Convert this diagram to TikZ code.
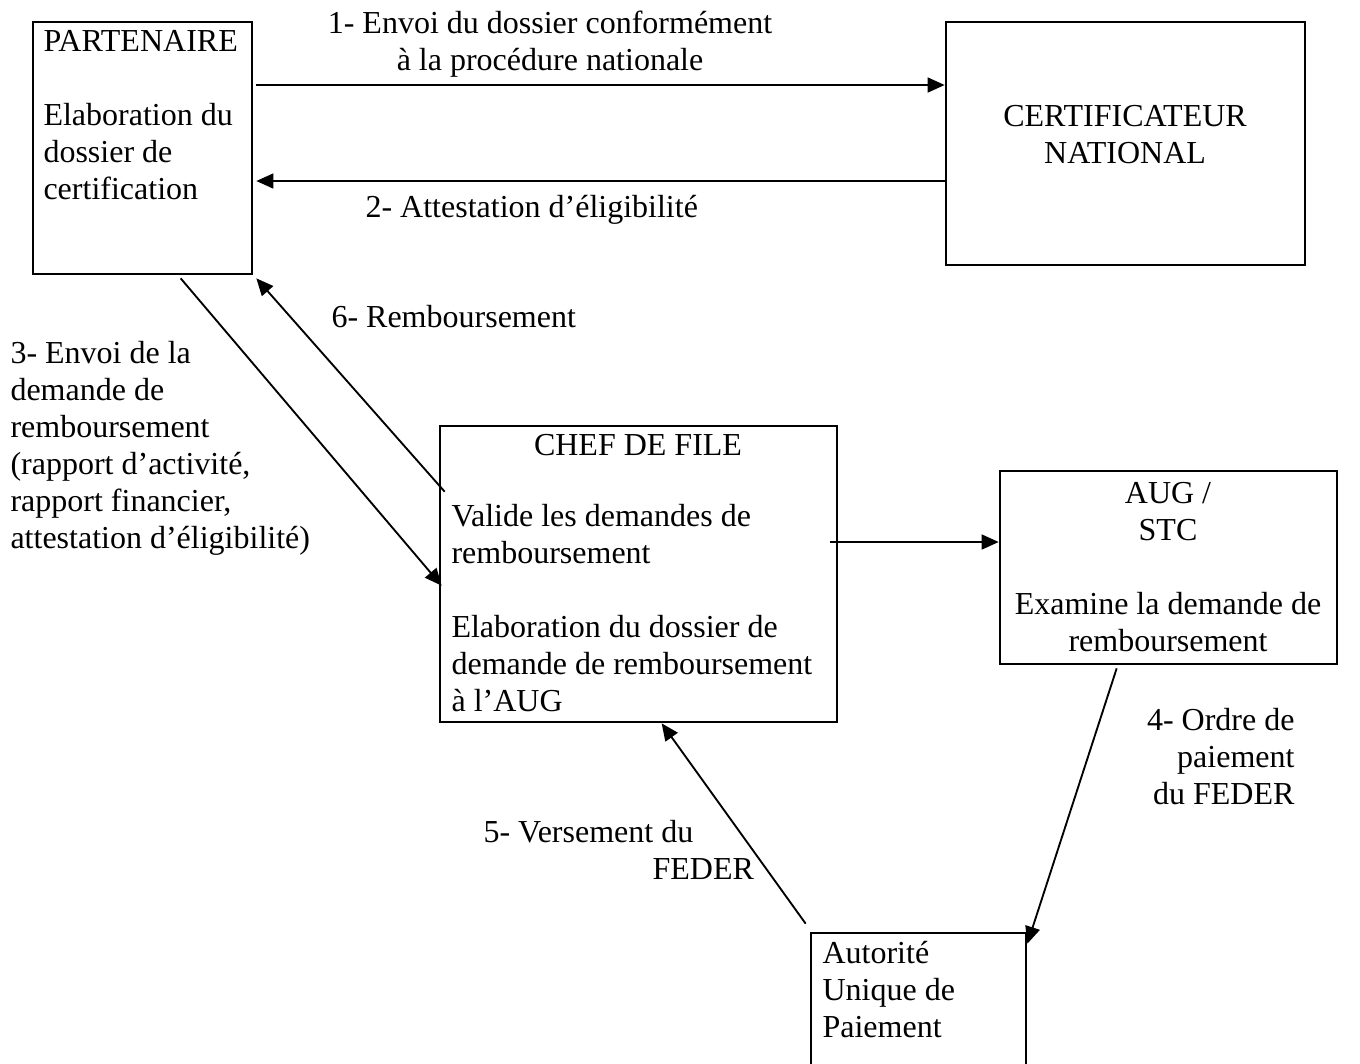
\documentclass[tikz,border=0pt]{standalone}
\usepackage{fontspec}
\setmainfont{Liberation Serif}
\usetikzlibrary{arrows.meta,calc,fit}
\begin{document}
\begin{tikzpicture}[x=0.375pt,y=-0.375pt,
  box/.style={draw, line width=1pt, rectangle, inner sep=0pt},
  conn/.style={line width=0.7pt},
  arr/.style={conn, -{Triangle[length=6.4pt,width=5.6pt]}},
  txt/.style={inner sep=0pt, font=\fontsize{12}{13.875}\selectfont}]
\useasboundingbox (0,0) rectangle (1360,1063);
% boxes
\node[box, fit={(33,22) (252,274)}] (part) {};
\node[box, fit={(946,22) (1305,265)}] (cert) {};
\node[box, fit={(440,426) (837,722)}] (chef) {};
\node[box, fit={(1000,471) (1337,664)}] (aug) {};
\node[box, fit={(811,933) (1026,1075)}] (aut) {};
% texts in boxes (base anchor = baseline of last line)
\node[txt, anchor=base west, align=left] (parttxt) at (43,199)
  {PARTENAIRE\\[13.875pt]Elaboration du\\dossier de\\certification};
\node[txt, anchor=base, align=center] (certtxt) at (1125,163)
  {CERTIFICATEUR\\NATIONAL};
\node[txt, anchor=base] (cheftitle) at (638,455) {CHEF DE FILE};
\node[txt, anchor=base west, align=left] (chefbody) at (451,711)
  {Valide les demandes de\\remboursement\\[13.875pt]Elaboration du dossier de\\demande de remboursement\\à l’AUG};
\node[txt, anchor=base, align=center] (augtxt) at (1168,651)
  {AUG /\\STC\\[13.875pt]Examine la demande de\\remboursement};
\node[txt, anchor=base west, align=left] (auttxt) at (822,1037)
  {Autorité\\Unique de\\Paiement};
% connector labels
\node[txt, anchor=base, align=center] (l1) at (550,70)
  {1- Envoi du dossier conformément\\à la procédure nationale};
\node[txt, anchor=base west] (l2) at (365,217) {2- Attestation d’éligibilité};
\node[txt, anchor=base west] (l6) at (331,327) {6- Remboursement};
\node[txt, anchor=base west, align=left] (l3) at (10,548)
  {3- Envoi de la\\demande de\\remboursement\\(rapport d’activité,\\rapport financier,\\attestation d’éligibilité)};
\node[txt, anchor=base east, align=right] (l4) at (1295,804)
  {4- Ordre de\\paiement\\du FEDER};
\node[txt, anchor=base west, align=left] (l5) at (483,879)
  {5- Versement du\\\hspace*{63.4pt}FEDER};
% helper coordinates
\coordinate (y1) at (0,85);
\coordinate (y2) at (0,181);
\coordinate (ya) at (0,542);
% connectors
\draw[arr] ($(part.east |- y1)+(3,0)$) -- (cert.west |- y1);
\draw[arr] (cert.west |- y2) -- ($(part.east |- y2)+(3,0)$);
\draw[arr] ($(part.south west)+(149,3)$) -- ($(chef.north west)+(3,161)$);
\draw[arr] ($(chef.north west)+(6,67)$) -- ($(part.south east)+(3,3)$);
\draw[arr] ($(chef.east |- ya)+(-8,0)$) -- (aug.west |- ya);
\draw[arr] ($(aug.south west)+(118,3)$) -- ($(aut.north east)+(0,12)$);
\draw[arr] ($(aut.north west)+(-4,-8)$) -- ($(chef.south west)+(223,0)$);
\end{tikzpicture}
\end{document}
